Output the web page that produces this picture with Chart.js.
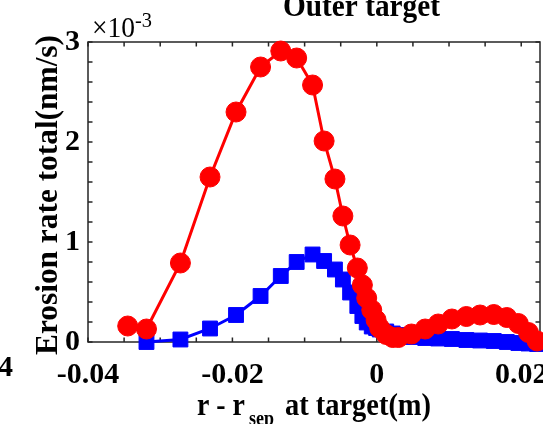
<!DOCTYPE html>
<html>
<head>
<meta charset="utf-8">
<script src="https://cdn.jsdelivr.net/npm/chart.js@4.4.0/dist/chart.umd.min.js"></script>
<style>
  html, body { margin: 0; padding: 0; background: #fff; }
  #wrap { width: 543px; height: 424px; position: relative; }
</style>
</head>
<body>
<div id="wrap"><canvas id="erosionChart"></canvas></div>
<script>
// r - r_sep at the outer target (m), same grid for both profiles
const gRadius = [
   -0.0345, -0.0319, -0.0272, -0.0231, -0.0195, -0.0161, -0.0133, -0.0111, -0.0089, -0.0073, -0.0058,
   -0.0047, -0.0037, -0.0027, -0.002, -0.0014, -0.0007, -0.0001, 0.0004, 0.0013, 0.0022, 0.003,
   0.0048, 0.0067, 0.0085, 0.0104, 0.0124, 0.0143, 0.0162, 0.018, 0.0196, 0.021, 0.0222,
];
// total erosion rate, in units of 1e-3 nm/s
const gErosionRed = [
   0.16, 0.13, 0.79, 1.65, 2.3, 2.75, 2.91, 2.84, 2.57, 2.01, 1.63,
   1.26, 0.97, 0.74, 0.57, 0.44, 0.32, 0.22, 0.14, 0.075, 0.045, 0.045,
   0.08, 0.13, 0.18, 0.23, 0.255, 0.27, 0.275, 0.245, 0.185, 0.095, 0.01,
];
const gErosionBlue = [
   null, 0.0, 0.025, 0.135, 0.27, 0.46, 0.66, 0.8, 0.875, 0.81, 0.725,
   0.625, 0.495, 0.36, 0.26, 0.195, 0.155, 0.14, 0.125, 0.105, 0.085, 0.07,
   0.05, 0.04, 0.035, 0.03, 0.02, 0.015, 0.01, 0.0, -0.01, -0.015, -0.02,
];
const gXTicks = [-0.04, -0.02, 0, 0.02];
const gYTicks = [0, 1, 2, 3];

const X_MIN = -0.04;
const X_MAX = 0.0226;
const X_MINOR = 0.005;
const Y_MIN = 0;
const Y_MAX = 3;
const Y_MINOR = 0.2;
const TICK_LEN = 4.5;
const AXIS_COLOR = "#262626";
const FONT = "'Liberation Serif', 'Times New Roman', serif";

function toPoints(paramY) {
   return gRadius.map((x, i) => ({ x: x, y: paramY[i] }));
}

function isOnList(paramValue, paramList) {
   return paramList.some((v) => Math.abs(v - paramValue) < 1e-9);
}

// text squeezed to a given width (the figure fonts are narrow)
function fillTextWidth(ctx, paramText, paramX, paramY, paramWidth) {
   const w = ctx.measureText(paramText).width;
   ctx.save();
   ctx.translate(paramX, paramY);
   ctx.scale(paramWidth / w, 1);
   ctx.fillText(paramText, 0, 0);
   ctx.restore();
}

// box round the plot area with inward ticks on all four sides
const axesBoxPlugin = {
   id: "axesBox",
   beforeDatasetsDraw(chart) {
      const { ctx, chartArea: a, scales } = chart;
      ctx.save();
      ctx.strokeStyle = AXIS_COLOR;
      ctx.lineWidth = 1.5;
      ctx.strokeRect(a.left, a.top, a.right - a.left, a.bottom - a.top);
      ctx.beginPath();
      const nx = Math.floor((X_MAX - X_MIN) / X_MINOR + 1e-6);
      for (let i = 0; i <= nx; i++) {
         const px = scales.x.getPixelForValue(X_MIN + i * X_MINOR);
         ctx.moveTo(px, a.bottom);
         ctx.lineTo(px, a.bottom - TICK_LEN);
         ctx.moveTo(px, a.top);
         ctx.lineTo(px, a.top + TICK_LEN);
      }
      const ny = Math.round((Y_MAX - Y_MIN) / Y_MINOR);
      for (let i = 0; i <= ny; i++) {
         const py = scales.y.getPixelForValue(Y_MIN + i * Y_MINOR);
         ctx.moveTo(a.left, py);
         ctx.lineTo(a.left + TICK_LEN, py);
         ctx.moveTo(a.right, py);
         ctx.lineTo(a.right - TICK_LEN, py);
      }
      ctx.stroke();
      ctx.restore();
   },
   afterDraw(chart) {
      const { ctx, chartArea: a } = chart;
      ctx.save();
      ctx.fillStyle = "#000";
      ctx.textAlign = "left";
      ctx.textBaseline = "alphabetic";

      // title
      ctx.font = "bold 31px " + FONT;
      fillTextWidth(ctx, "Outer target", 283, 16, 157);

      // exponent label
      ctx.font = "30px " + FONT;
      fillTextWidth(ctx, "\u00d710", 92, 37, 43);
      ctx.font = "21px " + FONT;
      fillTextWidth(ctx, "-3", 135, 27, 17);

      // x axis label with subscript
      const mainFont = "bold 31px " + FONT;
      const subFont = "bold 21px " + FONT;
      const base = 415;
      ctx.font = mainFont;
      fillTextWidth(ctx, "r - r", 197, base, 48);
      ctx.font = subFont;
      fillTextWidth(ctx, "sep", 249, base + 10, 25);
      ctx.font = mainFont;
      fillTextWidth(ctx, "at target(m)", 285, base, 146);

      // y axis label
      ctx.save();
      ctx.translate(57, (a.top + a.bottom) / 2 + 3);
      ctx.rotate(-Math.PI / 2);
      ctx.font = "bold 32px " + FONT;
      const wy = 320;
      fillTextWidth(ctx, "Erosion rate total(nm/s)", -wy / 2, 0, wy);
      ctx.restore();

      // tick label fragment of the neighbouring panel
      ctx.font = "bold 30px " + FONT;
      ctx.textAlign = "right";
      ctx.textBaseline = "middle";
      ctx.fillText("4", 13, 368);
      ctx.restore();
   },
};

Chart.defaults.font.family = FONT;
Chart.defaults.color = "#000";

new Chart(document.getElementById("erosionChart"), {
   type: "line",
   data: {
      datasets: [
         {
            data: toPoints(gErosionRed),
            borderColor: "#ff0000",
            backgroundColor: "#ff0000",
            borderWidth: 3,
            pointStyle: "circle",
            pointRadius: 10,
            pointBorderWidth: 1,
            tension: 0,
            clip: false,
         },
         {
            data: toPoints(gErosionBlue),
            borderColor: "#0000ff",
            backgroundColor: "#0000ff",
            borderWidth: 3,
            pointStyle: "rect",
            pointRadius: 10.5,
            pointBorderWidth: 1,
            tension: 0,
            clip: false,
         },
      ],
   },
   options: {
      responsive: true,
      maintainAspectRatio: false,
      animation: false,
      events: [],
      layout: { autoPadding: false, padding: { left: 0, right: 3, top: 42, bottom: 0 } },
      plugins: { legend: { display: false }, tooltip: { enabled: false }, title: { display: false } },
      scales: {
         x: {
            type: "linear",
            min: X_MIN,
            max: X_MAX,
            grid: { display: false, drawTicks: false },
            border: { display: false },
            ticks: {
               stepSize: X_MINOR,
               includeBounds: false,
               autoSkip: false,
               maxRotation: 0,
               minRotation: 0,
               padding: 15,
               font: { size: 30, weight: "bold" },
               callback: (v) => (isOnList(v, gXTicks) ? String(parseFloat(v.toFixed(3))) : ""),
            },
            afterFit: (scale) => {
               scale.height = 82;
               scale.paddingLeft = 0;
               scale.paddingRight = 0;
            },
         },
         y: {
            min: Y_MIN,
            max: Y_MAX,
            grid: { display: false, drawTicks: false },
            border: { display: false },
            ticks: {
               stepSize: Y_MINOR,
               autoSkip: false,
               padding: 8,
               font: { size: 30, weight: "bold" },
               callback: (v) => (isOnList(v, gYTicks) ? String(Math.round(v)) : ""),
            },
            afterFit: (scale) => {
               scale.width = 88;
               scale.paddingTop = 0;
               scale.paddingBottom = 0;
            },
         },
      },
   },
   plugins: [axesBoxPlugin],
});
</script>
</body>
</html>
